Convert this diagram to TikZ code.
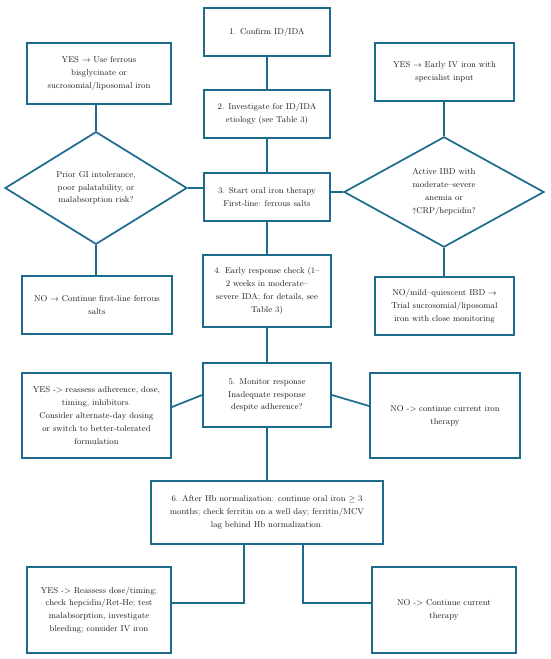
\documentclass[tikz,border=0pt]{standalone}
\usetikzlibrary{shapes.geometric}
\definecolor{edge}{RGB}{28,106,140}
\definecolor{txt}{RGB}{30,30,30}
\begin{document}
\begin{tikzpicture}[x=1pt,y=-1pt,
  box/.style={draw=edge,line width=1.7pt,fill=white,align=center,inner sep=2pt,text=txt,font=\fontsize{8.5}{12.8}\selectfont},
  dia/.style={diamond,draw=edge,line width=1.7pt,fill=white,align=center,inner sep=0pt,text=txt,font=\fontsize{8.5}{12.8}\selectfont},
  conn/.style={draw=edge,line width=1.7pt}]
\fill[white] (0,0) rectangle (550,659);
\useasboundingbox (0,0) rectangle (550,659);

\node[box,minimum width=126pt,minimum height=48pt] (b1) at (267,32) {1. Confirm ID/IDA};
\node[box,minimum width=126pt,minimum height=48pt] (b2) at (267,114) {2. Investigate for ID/IDA\\etiology (see Table 3)};
\node[box,minimum width=126pt,minimum height=48pt] (b3) at (267,197) {3. Start oral iron therapy\\First-line: ferrous salts};
\node[box,minimum width=128pt,minimum height=72pt] (b4) at (267,291) {4. Early response check (1--\\2 weeks in moderate--\\severe IDA; for details, see\\Table 3)};
\node[box,minimum width=128pt,minimum height=64pt] (b5) at (267,395) {5. Monitor response\\Inadequate response\\despite adherence?};
\node[box,minimum width=232pt,minimum height=63pt] (b6) at (267,512.5) {6. After Hb normalization: continue oral iron $\geq$ 3\\months; check ferritin on a well day; ferritin/MCV\\lag behind Hb normalization.};

\node[box,minimum width=144pt,minimum height=61pt] (yl1) at (99,73.5) {YES $\rightarrow$ Use ferrous\\bisglycinate or\\sucrosomial/liposomal iron};
\node[box,minimum width=139pt,minimum height=58pt] (yr1) at (444.5,72) {YES $\rightarrow$ Early IV iron with\\specialist input};
\node[dia,minimum width=182pt,minimum height=110pt] (dl) at (96,188) {Prior GI intolerance,\\poor palatability, or\\malabsorption risk?};
\node[dia,minimum width=200pt,minimum height=108pt] (dr) at (444,192) {Active IBD with\\moderate--severe\\anemia or\\$\uparrow$CRP/hepcidin?};
\node[box,minimum width=150pt,minimum height=58pt] (nl1) at (97,305) {NO $\rightarrow$ Continue first-line ferrous\\salts};
\node[box,minimum width=139pt,minimum height=58pt] (nr1) at (444.5,306) {NO/mild--quiescent IBD $\rightarrow$\\Trial sucrosomial/liposomal\\iron with close monitoring};
\node[box,minimum width=149pt,minimum height=85pt] (yl2) at (96.5,415.5) {YES -> reassess adherence, dose,\\timing, inhibitors.\\Consider alternate-day dosing\\or switch to better-tolerated\\formulation};
\node[box,minimum width=150pt,minimum height=85pt] (nr2) at (445,415.5) {NO -> continue current iron\\therapy};
\node[box,minimum width=144pt,minimum height=86pt] (yl3) at (99,610) {YES -> Reassess dose/timing;\\check hepcidin/Ret-He; test\\malabsorption, investigate\\bleeding; consider IV iron};
\node[box,minimum width=144pt,minimum height=86pt] (nr3) at (444,610) {NO -> Continue current\\therapy};

\path[conn] (b1.south) -- (b2.north);
\path[conn] (b2.south) -- (b3.north);
\path[conn] (b3.south) -- (b4.north);
\path[conn] (b4.south) -- (b5.north);
\path[conn] (b5.south) -- (b6.north);
\path[conn] (dl.north) -- (dl.north |- yl1.south);
\path[conn] (dr.north) -- (dr.north |- yr1.south);
\path[conn] (dl.south) -- (dl.south |- nl1.north);
\path[conn] (dr.south) -- (dr.south |- nr1.north);
\path[conn] (dl.east) -- (dl.east -| b3.west);
\path[conn] (dr.west) -- (dr.west -| b3.east);
\path[conn] (b5.west) -- ([yshift=8.5pt]yl2.east);
\path[conn] (b5.east) -- ([yshift=9.5pt]nr2.west);
\path[conn] ([xshift=-23pt]b6.south) |- ([yshift=7pt]yl3.east);
\path[conn] ([xshift=36pt]b6.south) |- ([yshift=7pt]nr3.west);
\end{tikzpicture}
\end{document}
